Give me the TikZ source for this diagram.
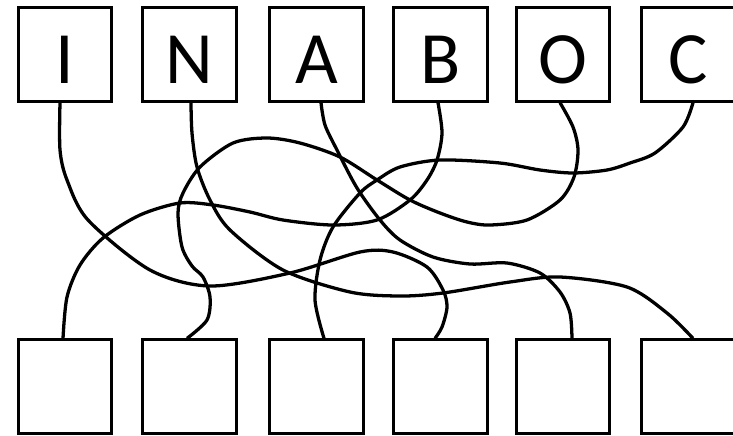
\documentclass[tikz,border=0pt]{standalone}
\usepackage{fontspec}
\setmainfont{Carlito}
\usetikzlibrary{calc}

\begin{document}
\begin{tikzpicture}[x=0.03cm, y=-0.03cm,
    box/.style={draw, line width=2.5pt, minimum size=2.8cm, inner sep=0pt,
      font=\fontsize{63}{63}\selectfont, text height=1.74cm, text depth=0pt},
    wire/.style={line width=2.8pt}]
    \useasboundingbox (0,0) rectangle (733,435);
    % top boxes with letters
    \node[box] (I) at (65,54.5) {I};
    \node[box] (N) at (189.5,54.5) {N};
    \node[box] (A) at (316.5,54.5) {A};
    \node[box] (B) at (440.5,54.5) {B};
    \node[box] (O) at (563,54.5) {O};
    \node[box] (C) at (688.5,54.5) {C};
    % bottom boxes
    \node[box] (s1) at (65,386.5) {};
    \node[box] (s2) at (189.5,386.5) {};
    \node[box] (s3) at (316.5,386.5) {};
    \node[box] (s4) at (440.5,386.5) {};
    \node[box] (s5) at (563,386.5) {};
    \node[box] (s6) at (688.5,386.5) {};
    % wire ends on the boxes
    \coordinate (I0) at ($(I.south)+(-5,0)$);
    \coordinate (N0) at ($(N.south)+(1.5,0)$);
    \coordinate (A0) at ($(A.south)+(4.5,0)$);
    \coordinate (B0) at ($(B.south)+(-2.5,0)$);
    \coordinate (O0) at ($(O.south)+(-3,0)$);
    \coordinate (C0) at ($(C.south)+(4.5,0)$);
    \coordinate (e1) at ($(s1.north)+(-2,0)$);
    \coordinate (e2) at ($(s2.north)+(-2.5,0)$);
    \coordinate (e3) at ($(s3.north)+(7.5,0)$);
    \coordinate (e4) at ($(s4.north)+(-5.5,0)$);
    \coordinate (e5) at ($(s5.north)+(9,0)$);
    \coordinate (e6) at ($(s6.north)+(4.5,0)$);
    % wires
    \draw[wire] plot[smooth] coordinates {(I0) (60,150) (67,180) (88,220) (150,270) (210,286)
      (290,273) (360,252) (393,252) (427,267) (443,290) (447,307) (442,327) (e4)};
    \draw[wire] plot[smooth] coordinates {(N0) (192,133) (197,167) (210,200) (230,230) (283,270)
      (350,292) (400,296) (443,293) (510,282) (560,277) (627,287) (667,313) (e6)};
    \draw[wire] plot[smooth] coordinates {(A0) (325,125) (337,150) (357,188) (380,220) (400,240)
      (433,257) (470,264) (507,263) (540,273) (560,292) (570,313) (e5)};
    \draw[wire] plot[smooth] coordinates {(B0) (442,133) (437,160) (427,180) (410,200) (377,220)
      (333,225) (283,220) (250,212) (213,205) (180,203) (140,215) (103,238) (80,265) (67,297) (e1)};
    \draw[wire] plot[smooth] coordinates {(O0) (573,127) (578,150) (574,177) (560,200) (527,220)
      (490,225) (467,222) (440,213) (410,200) (377,180) (340,157) (300,143) (267,138) (233,143)
      (200,167) (183,193) (178,213) (182,247) (192,266) (203,277) (210,297) (207,320) (e2)};
    \draw[wire] plot[smooth] coordinates {(C0) (683,127) (655,153) (630,163) (607,170) (573,173)
      (540,170) (500,163) (440,160) (400,167) (377,180) (360,193) (333,227) (320,260) (315,300) (e3)};
\end{tikzpicture}
\end{document}
